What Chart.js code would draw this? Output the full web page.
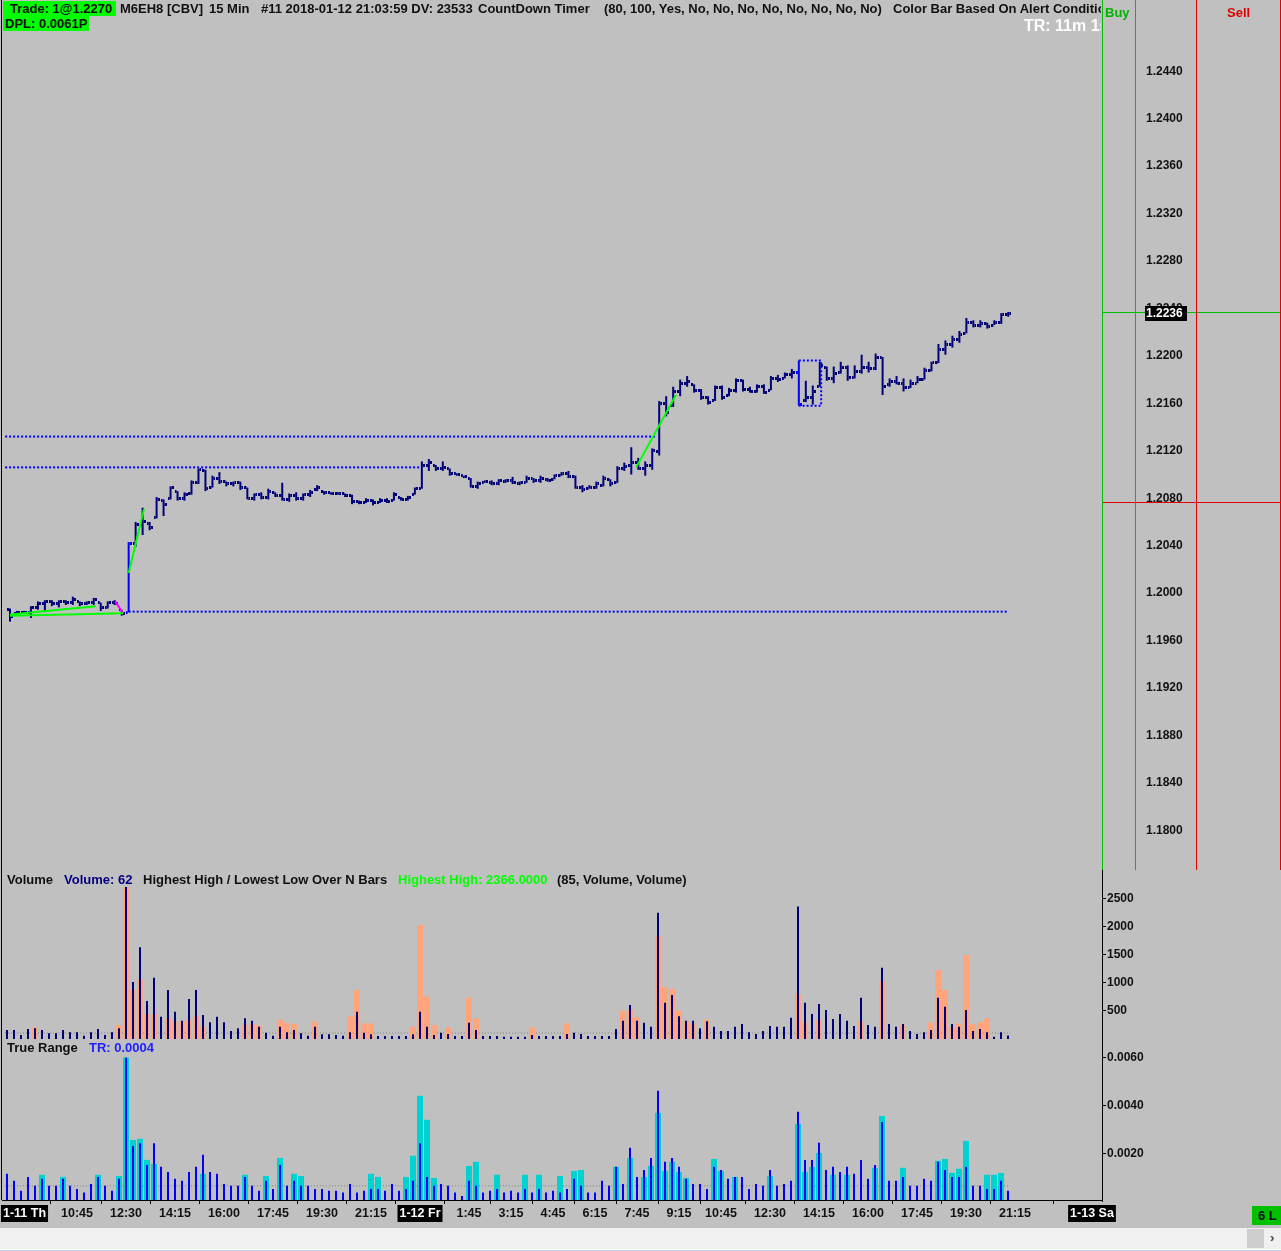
<!DOCTYPE html>
<html><head><meta charset="utf-8">
<script src="https://cdn.jsdelivr.net/npm/chart.js@4.4.1/dist/chart.umd.min.js"></script>
<style>
html,body{margin:0;padding:0;background:#c0c0c0;width:1281px;height:1251px;overflow:hidden;position:relative;}
canvas{position:absolute;left:0;}
.t{position:absolute;font:bold 13px 'Liberation Sans',Arial,sans-serif;white-space:nowrap;line-height:15px;color:#101010;}
.ln{position:absolute;}
</style></head><body>
<canvas id="pc" width="1281" height="870" style="top:0"></canvas>
<canvas id="vc" width="1281" height="169" style="top:871px"></canvas>
<canvas id="tc" width="1281" height="188" style="top:1040px"></canvas>

<div class="ln" style="left:1px;top:0;width:1px;height:1200px;background:#000"></div>
<div class="ln" style="left:1102px;top:0;width:1px;height:870px;background:#00c000"></div>
<div class="ln" style="left:1135px;top:0;width:1px;height:870px;background:#00c000"></div>
<div class="ln" style="left:1196px;top:0;width:1px;height:870px;background:#e00000"></div>
<div class="ln" style="left:1280px;top:0;width:1px;height:870px;background:#e00000"></div>
<div class="ln" style="left:1102px;top:870px;width:1px;height:332px;background:#000"></div>

<div style="position:absolute;left:0;top:0;width:1101px;height:40px;overflow:hidden">
  <span class="t" style="left:3px;top:1px;background:#00ff00;padding:0 4px 0 7px;">Trade: 1@1.2270</span>
  <span class="t" style="left:120px;top:1px;">M6EH8 [CBV]</span>
  <span class="t" style="left:209px;top:1px;">15 Min</span>
  <span class="t" style="left:261px;top:1px;">#11 2018-01-12 21:03:59 DV: 23533</span>
  <span class="t" style="left:478px;top:1px;">CountDown Timer</span>
  <span class="t" style="left:604px;top:1px;">(80, 100, Yes, No, No, No, No, No, No, No, No)</span>
  <span class="t" style="left:893px;top:1px;">Color Bar Based On Alert Conditions</span>
  <span class="t" style="left:3px;top:16px;background:#00ff00;padding:0 2px 0 2px;">DPL: 0.0061P</span>
  <span class="t" style="left:1024px;top:17px;color:#fff;font-size:16px;line-height:18px;">TR: 11m 1s</span>
</div>
<span class="t" style="left:1105px;top:5px;color:#00b400;">Buy</span>
<span class="t" style="left:1227px;top:5px;color:#e00000;">Sell</span>

<span class="t" style="left:7px;top:872px;">Volume</span>
<span class="t" style="left:64px;top:872px;color:#000080;">Volume: 62</span>
<span class="t" style="left:143px;top:872px;">Highest High / Lowest Low Over N Bars</span>
<span class="t" style="left:398px;top:872px;color:#00ff00;">Highest High: 2366.0000</span>
<span class="t" style="left:557px;top:872px;">(85, Volume, Volume)</span>
<span class="t" style="left:7px;top:1040px;">True Range</span>
<span class="t" style="left:89px;top:1040px;color:#2020ff;">TR: 0.0004</span>

<div class="ln" style="left:1252px;top:1206px;width:29px;height:19px;background:#00c000"></div>
<span class="t" style="left:1258px;top:1208px;">6 L</span>
<div class="ln" style="left:0;top:1228px;width:1281px;height:21px;background:#f0f0f0"></div>
<div class="ln" style="left:1247px;top:1229px;width:17px;height:19px;background:#cdcdcd"></div>
<span class="t" style="left:1270px;top:1230px;color:#444;">›</span>
<div class="ln" style="left:0;top:1249px;width:1281px;height:1px;background:#fff"></div>
<div class="ln" style="left:0;top:1250px;width:1281px;height:1px;background:#bcd4ee"></div>

<script>
// ---------- DATA ----------
const highs = [
1.1987,1.1985,1.1985,1.1989,1.1993,1.1994,1.1994,1.1994,1.1994,1.1997,
1.1993,1.1993,1.1996,1.1992,1.1993,1.1994,1.1986,1.2043,1.2060,1.2072,
1.2060,1.2081,1.2079,1.2090,1.2086,1.2085,1.2095,1.2105,1.2104,1.2099,
1.2102,1.2094,1.2094,1.2094,1.2089,1.2084,1.2085,1.2088,1.2085,1.2093,
1.2084,1.2085,1.2084,1.2087,1.2091,1.2086,1.2085,1.2085,1.2084,1.2083,
1.2078,1.2080,1.2079,1.2080,1.2080,1.2085,1.2081,1.2082,1.2089,1.2111,
1.2113,1.2108,1.2111,1.2105,1.2101,1.2099,1.2097,1.2094,1.2095,1.2095,
1.2096,1.2096,1.2098,1.2094,1.2099,1.2097,1.2099,1.2097,1.2100,1.2102,
1.2103,1.2099,1.2091,1.2091,1.2094,1.2099,1.2096,1.2107,1.2110,1.2123,
1.2114,1.2111,1.2122,1.2162,1.2166,1.2174,1.2180,1.2183,1.2176,1.2172,
1.2166,1.2175,1.2175,1.2173,1.2181,1.2180,1.2174,1.2176,1.2176,1.2183,
1.2184,1.2186,1.2189,1.2196,1.2179,1.2175,1.2195,1.2191,1.2191,1.2195,
1.2192,1.2192,1.2201,1.2195,1.2202,1.2199,1.2181,1.2183,1.2181,1.2180,
1.2183,1.2190,1.2195,1.2210,1.2213,1.2217,1.2221,1.2232,1.2230,1.2230,
1.2228,1.2230,1.2236,1.2237];
const lows = [
1.1976,1.1983,1.1983,1.1979,1.1986,1.1984,1.1989,1.1988,1.1990,1.1990,
1.1989,1.1990,1.1990,1.1985,1.1987,1.1990,1.1981,1.1984,1.2039,1.2049,
1.2053,1.2063,1.2065,1.2079,1.2078,1.2078,1.2083,1.2092,1.2086,1.2089,
1.2092,1.2090,1.2090,1.2087,1.2079,1.2078,1.2079,1.2079,1.2081,1.2078,
1.2077,1.2078,1.2078,1.2081,1.2086,1.2083,1.2083,1.2083,1.2081,1.2075,
1.2075,1.2076,1.2074,1.2076,1.2076,1.2078,1.2078,1.2078,1.2083,1.2088,
1.2103,1.2103,1.2103,1.2099,1.2099,1.2097,1.2089,1.2088,1.2093,1.2091,
1.2091,1.2093,1.2092,1.2091,1.2093,1.2093,1.2093,1.2094,1.2096,1.2099,
1.2097,1.2088,1.2085,1.2088,1.2088,1.2090,1.2090,1.2093,1.2103,1.2100,
1.2104,1.2099,1.2104,1.2116,1.2149,1.2157,1.2166,1.2174,1.2169,1.2163,
1.2159,1.2162,1.2163,1.2166,1.2169,1.2170,1.2169,1.2169,1.2168,1.2171,
1.2178,1.2181,1.2181,1.2158,1.2161,1.2159,1.2174,1.2179,1.2177,1.2185,
1.2179,1.2181,1.2185,1.2186,1.2188,1.2167,1.2174,1.2176,1.2170,1.2173,
1.2177,1.2180,1.2187,1.2194,1.2201,1.2207,1.2211,1.2219,1.2224,1.2224,
1.2223,1.2226,1.2227,1.2233];
const opens = [
1.1986,1.1983,1.1984,1.1984,1.1988,1.1991,1.1993,1.1991,1.1993,1.1992,
1.1993,1.1991,1.1992,1.1992,1.1988,1.1992,1.1986,1.1984,1.2042,1.2058,
1.2059,1.2064,1.2078,1.2080,1.2086,1.2080,1.2084,1.2093,1.2103,1.2089,
1.2097,1.2094,1.2092,1.2093,1.2089,1.2080,1.2083,1.2081,1.2085,1.2082,
1.2079,1.2082,1.2080,1.2083,1.2087,1.2086,1.2085,1.2084,1.2084,1.2082,
1.2077,1.2076,1.2078,1.2076,1.2078,1.2078,1.2081,1.2079,1.2083,1.2088,
1.2108,1.2108,1.2105,1.2105,1.2101,1.2099,1.2097,1.2090,1.2093,1.2093,
1.2092,1.2094,1.2095,1.2092,1.2093,1.2097,1.2095,1.2096,1.2096,1.2099,
1.2101,1.2098,1.2089,1.2088,1.2089,1.2091,1.2096,1.2093,1.2105,1.2108,
1.2110,1.2105,1.2108,1.2119,1.2160,1.2158,1.2170,1.2177,1.2176,1.2171,
1.2165,1.2162,1.2173,1.2167,1.2171,1.2179,1.2172,1.2170,1.2174,1.2171,
1.2181,1.2181,1.2184,1.2186,1.2162,1.2165,1.2174,1.2190,1.2181,1.2186,
1.2190,1.2182,1.2187,1.2190,1.2189,1.2199,1.2176,1.2178,1.2177,1.2173,
1.2177,1.2180,1.2188,1.2194,1.2205,1.2210,1.2214,1.2219,1.2228,1.2226,
1.2227,1.2226,1.2228,1.2235];
const closes = [
1.1980,1.1984,1.1984,1.1988,1.1991,1.1993,1.1991,1.1993,1.1992,1.1995,
1.1991,1.1992,1.1995,1.1988,1.1992,1.1991,1.1983,1.2042,1.2058,1.2060,
1.2055,1.2079,1.2075,1.2089,1.2080,1.2083,1.2093,1.2104,1.2088,1.2097,
1.2094,1.2092,1.2093,1.2089,1.2080,1.2083,1.2081,1.2086,1.2082,1.2079,
1.2082,1.2080,1.2083,1.2085,1.2089,1.2085,1.2084,1.2084,1.2082,1.2077,
1.2076,1.2078,1.2076,1.2078,1.2077,1.2083,1.2079,1.2081,1.2088,1.2108,
1.2110,1.2105,1.2106,1.2101,1.2100,1.2098,1.2090,1.2092,1.2094,1.2092,
1.2095,1.2095,1.2093,1.2093,1.2097,1.2095,1.2097,1.2095,1.2099,1.2101,
1.2098,1.2089,1.2087,1.2089,1.2092,1.2097,1.2092,1.2105,1.2107,1.2110,
1.2105,1.2108,1.2120,1.2160,1.2152,1.2170,1.2177,1.2178,1.2171,1.2165,
1.2161,1.2173,1.2165,1.2171,1.2179,1.2172,1.2170,1.2174,1.2169,1.2181,
1.2180,1.2184,1.2186,1.2159,1.2165,1.2170,1.2192,1.2181,1.2185,1.2190,
1.2182,1.2187,1.2190,1.2189,1.2199,1.2174,1.2178,1.2177,1.2173,1.2177,
1.2180,1.2188,1.2194,1.2205,1.2210,1.2214,1.2218,1.2228,1.2226,1.2227,
1.2225,1.2228,1.2235,1.2236];
const alertBars = [17, 113];

const volume = [
161,161,71,179,190,161,101,101,161,119,
119,60,119,179,71,119,190,2800,1018,1637,
679,1095,399,875,488,327,714,875,429,298,
399,298,143,190,369,327,220,113,60,220,
119,161,101,60,220,83,83,71,60,119,
488,113,83,54,54,54,54,54,83,488,
220,71,113,89,54,54,292,161,54,54,
54,42,42,42,42,71,54,54,54,54,
89,113,89,54,54,54,54,179,327,607,
327,292,220,2256,649,786,405,327,327,190,
315,220,143,143,220,268,119,89,143,232,
220,220,380,2366,649,446,625,518,357,446,
327,232,738,250,220,1274,268,220,268,143,
89,119,161,738,577,268,220,518,143,179,
119,42,119,62];
const volumeAlt = [
0,0,0,0,208,0,0,0,0,0,
0,0,0,0,0,0,250,2800,875,1066,
446,446,0,369,310,310,345,405,220,0,
0,0,0,0,250,268,238,0,0,345,
286,268,0,0,310,0,0,0,0,405,
875,280,280,0,0,0,0,0,220,2036,
756,250,0,208,0,0,738,369,0,0,
0,0,0,0,0,208,0,0,0,0,
280,0,0,0,0,0,0,0,500,530,
387,0,0,1845,923,893,500,315,280,0,
345,0,0,0,0,0,0,0,0,0,
0,0,0,804,298,0,345,0,0,0,
0,0,315,0,0,1036,0,0,250,0,
0,0,298,1232,875,208,280,1500,268,298,
369,0,0,0];
const trueRange = [
.00117,.00088,.00047,.00104,.00067,.00096,.00067,.00067,.00096,.00067,
.00054,.00039,.00075,.00104,.00067,.00047,.00096,.00600,.00233,.00244,
.00154,.00244,.00146,.00125,.00096,.00088,.00125,.00146,.00196,.00125,
.00117,.00075,.00067,.00067,.00104,.00067,.00047,.00088,.00054,.00154,
.00067,.00088,.00067,.00067,.00054,.00054,.00047,.00047,.00039,.00075,
.00039,.00047,.00054,.00054,.00047,.00075,.00047,.00054,.00088,.00244,
.00104,.00067,.00075,.00067,.00039,.00025,.00088,.00067,.00039,.00047,
.00054,.00039,.00047,.00039,.00054,.00039,.00054,.00039,.00047,.00039,
.00054,.00096,.00067,.00039,.00039,.00088,.00067,.00146,.00075,.00226,
.00104,.00133,.00183,.00463,.00167,.00183,.00146,.00096,.00075,.00075,
.00054,.00146,.00133,.00096,.00104,.00104,.00054,.00075,.00067,.00133,
.00067,.00075,.00088,.00375,.00175,.00175,.00246,.00133,.00146,.00125,
.00146,.00117,.00175,.00096,.00154,.00333,.00088,.00088,.00104,.00067,
.00067,.00096,.00088,.00167,.00133,.00104,.00104,.00146,.00067,.00067,
.00054,.00054,.00088,.00046];
const trueRangeAlt = [
0,0,0,0,0,.00113,0,0,.00104,0,
0,0,0,.00113,0,0,.00108,.00601,.00258,.00263,
.00175,.00158,0,0,0,0,0,0,.00117,0,
0,0,0,0,.00113,0,0,.00108,0,.00183,
0,.00117,.00108,0,0,0,0,0,0,0,
0,0,.00117,.00104,0,0,0,.00104,.00192,.00442,
.00342,.00100,0,0,0,0,.00150,.00167,0,0,
.00113,0,0,0,.00113,0,.00113,0,0,.00108,
0,.00129,.00133,0,0,0,0,.00146,0,.00183,
0,.00104,.00150,.00371,.00129,.00167,.00125,.00100,0,0,
0,.00179,.00129,0,.00104,0,0,0,0,.00108,
0,0,0,.00325,.00125,.00146,.00204,0,.00113,0,
.00113,0,0,0,.00142,.00358,0,0,.00142,0,
0,0,0,.00171,.00179,.00121,.00138,.00254,0,0,
.00113,.00113,.00121,0];

const volumeRef = 107;
const trueRangeRef = 0.00067;

const priceTicks = [1.1800,1.1840,1.1880,1.1920,1.1960,1.2000,1.2040,1.2080,1.2120,1.2160,1.2200,1.2240,1.2280,1.2320,1.2360,1.2400,1.2440];
const volumeTicks = [500,1000,1500,2000,2500];
const trTicks = [0.002,0.004,0.006];
const timeTickPos  = [2.5,10,17,24,31,38,45,52,59,66,72,78,84,90,96,102,109,116,123,130,137,144,155];
const timeTickText = ['1-11 Th','10:45','12:30','14:15','16:00','17:45','19:30','21:15','1-12 Fr','1:45','3:15','4:45','6:15','7:45','9:15','10:45','12:30','14:15','16:00','17:45','19:30','21:15','1-13 Sa'];

// levels / drawings (price, bar index span)
const levelLines = [
  {price:1.2132, from:-0.7, to:92.6},
  {price:1.2106, from:-0.7, to:58.9},
  {price:1.19844, from:17, to:143}
];
const trendLines = [
  [{x:0,y:1.1982},{x:12.3,y:1.1989}],
  [{x:0,y:1.1981},{x:16.2,y:1.1983}],
  [{x:17,y:1.2017},{x:19.2,y:1.2071}],
  [{x:89.7,y:1.2106},{x:95.4,y:1.2167}]
];
const reversalLine = [{x:15.1,y:1.1993},{x:16.2,y:1.1983}];
const alertBox = [{x:113,y:1.2196},{x:116.2,y:1.2196},{x:116.2,y:1.2158},{x:113,y:1.2158}];
const buyLevel = 1.2237, sellLevel = 1.20765;

// ---------- STYLE ----------
const NAVY='#000078', BLUE='#0000ff', ORANGE='#ffa47c', CYAN='#00d2d2', GRAY='#808080';
const FONT="'Liberation Sans', Arial, sans-serif";
const XMIN=-5/7, XMAX=XMIN+1100/7;
const idx = highs.map((_,i)=>i);

function tickImg(color, side){
  const c=document.createElement('canvas'); c.width=6; c.height=3;
  const g=c.getContext('2d'); g.fillStyle=color; g.fillRect(side<0?0:4,0,2,3); return c;
}
const openN=tickImg(NAVY,-1), openB=tickImg(BLUE,-1), closeN=tickImg(NAVY,1), closeB=tickImg(BLUE,1);
const isAlert = c => alertBars.includes(c.dataIndex);

const xHidden = {type:'linear', min:XMIN, max:XMAX, display:false, offset:false};
function yAxis(min,max,ticks,fmt,tickLen,tickColor){
  return {type:'linear', position:'right', min, max,
    afterBuildTicks: s => { s.ticks = ticks.map(v=>({value:v})); },
    afterFit: s => { s.width = 179; s.paddingTop = 0; s.paddingBottom = 0; },
    border:{display:false},
    grid:{display:true, drawOnChartArea:false, drawTicks:true, tickLength:tickLen, color:tickColor},
    ticks:{callback:fmt, padding:1, color:'#111', font:{family:FONT,size:12,weight:'bold'}}
  };
}
const common = {responsive:false, animation:false, events:[], plugins:{legend:{display:false}, tooltip:{enabled:false}}};

const pricePanel = {
  id:'pricePanel',
  afterDraw(chart){
    const {ctx, chartArea} = chart; const y = chart.scales.y;
    ctx.save();
    [[buyLevel,'#00c000'],[sellLevel,'#e00000']].forEach(([v,c])=>{
      const py=Math.round(y.getPixelForValue(v))+0.5;
      ctx.strokeStyle=c; ctx.lineWidth=1; ctx.beginPath(); ctx.moveTo(chartArea.right,py); ctx.lineTo(chart.width,py); ctx.stroke();
    });
    const last = closes[closes.length-1];
    const py = Math.round(y.getPixelForValue(last));
    ctx.fillStyle='#000'; ctx.fillRect(chartArea.right+43, py-7, 42, 15);
    ctx.fillStyle='#fff'; ctx.font='bold 12px '+FONT; ctx.textBaseline='middle'; ctx.textAlign='left';
    ctx.fillText(last.toFixed(4), chartArea.right+44, py+1);
    ctx.restore();
  }
};

const lineDs = (data,color,dash,order,w) => ({type:'line', data, borderColor:color, borderWidth:w||2, borderDash:dash||[], pointRadius:0, fill:false, order, tension:0});

new Chart(document.getElementById('pc'), {
  type:'scatter',
  data:{datasets:[
    {type:'bar', data:idx.map(i=>({x:i,y:[lows[i],highs[i]]})), backgroundColor:c=>isAlert(c)?BLUE:NAVY, barThickness:2, inflateAmount:0, borderWidth:0, grouped:false, order:2},
    {type:'scatter', data:idx.map(i=>({x:i,y:opens[i]})), pointStyle:c=>isAlert(c)?openB:openN, pointRadius:3, order:1},
    {type:'scatter', data:idx.map(i=>({x:i,y:closes[i]})), pointStyle:c=>isAlert(c)?closeB:closeN, pointRadius:3, order:1},
    ...levelLines.map(l=>lineDs([{x:l.from,y:l.price},{x:l.to,y:l.price}],BLUE,[2,2],5)),
    ...trendLines.map(t=>lineDs(t,'#00ff00',[],0)),
    lineDs(reversalLine,'#ff00ff',[],0),
    lineDs(alertBox,BLUE,[2,2],0)
  ]},
  options:{...common, layout:{padding:{left:2,top:0,bottom:0,right:0}},
    scales:{x:xHidden, y:yAxis(1.17708,1.24958,priceTicks,v=>v.toFixed(4),43,'rgba(0,0,0,0)')}},
  plugins:[pricePanel]
});

new Chart(document.getElementById('vc'), {
  type:'scatter',
  data:{datasets:[
    {type:'bar', data:idx.map(i=>({x:i,y:volume[i]})), backgroundColor:NAVY, barThickness:2, inflateAmount:0, grouped:false, order:0},
    {type:'bar', data:idx.map(i=>({x:i,y:volumeAlt[i]})), backgroundColor:ORANGE, barThickness:6, inflateAmount:0, grouped:false, order:1},
    lineDs([{x:-0.3,y:volumeRef},{x:143.3,y:volumeRef}],GRAY,[1,2],3,1)
  ]},
  options:{...common, layout:{padding:{left:2,top:16,bottom:1,right:0}},
    scales:{x:xHidden, y:yAxis(0,2714,volumeTicks,v=>String(v),4,'#000')}}
});

new Chart(document.getElementById('tc'), {
  type:'scatter',
  data:{datasets:[
    {type:'bar', data:idx.map(i=>({x:i,y:trueRange[i]})), backgroundColor:BLUE, barThickness:2, inflateAmount:0, grouped:false, order:0},
    {type:'bar', data:idx.map(i=>({x:i,y:trueRangeAlt[i]})), backgroundColor:CYAN, barThickness:6, inflateAmount:0, grouped:false, order:1},
    lineDs([{x:-0.3,y:trueRangeRef},{x:143.3,y:trueRangeRef}],GRAY,[1,2],3,1)
  ]},
  options:{...common, layout:{padding:{left:2,top:13,bottom:0,right:0}},
    scales:{
      x:{type:'linear', min:XMIN, max:XMAX, position:'bottom', offset:false,
        afterBuildTicks: s => { s.ticks = timeTickPos.map(v=>({value:v})); },
        afterFit: s => { s.height = 28; s.paddingLeft = 0; s.paddingRight = 0; },
        border:{display:true, color:'#000', width:1},
        grid:{display:true, drawOnChartArea:false, drawTicks:true, tickLength:4, color:'#000'},
        ticks:{autoSkip:false, maxRotation:0, padding:2,
          callback:(v,i)=>timeTickText[i],
          color:c=>/-/.test(timeTickText[c.index])?'#fff':'#111',
          showLabelBackdrop:c=>/-/.test(timeTickText[c.index]),
          backdropColor:'#000', backdropPadding:{left:2,right:2,top:1,bottom:1},
          font:{family:FONT,size:12.5,weight:'bold'}}
      },
      y:yAxis(0.00008,0.0062,trTicks,v=>v.toFixed(4),4,'#000')
    }}
});
</script>
</body></html>
